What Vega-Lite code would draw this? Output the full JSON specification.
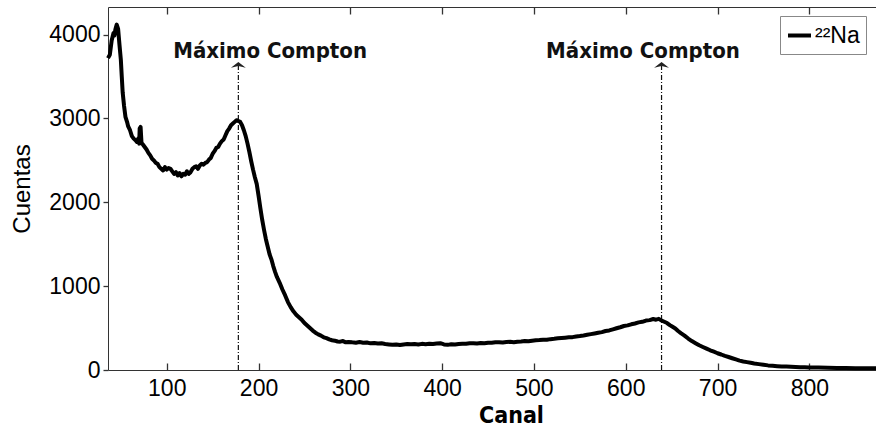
{
  "$schema": "https://vega.github.io/schema/vega-lite/v6.json",
  "width": 769,
  "height": 363,
  "autosize": {"type": "none"},
  "padding": {"left": 108, "top": 7, "right": 0, "bottom": 58},
  "background": "white",
  "config": {
    "view": {"stroke": "#333", "strokeWidth": 1},
    "axis": {"labelFont": "Liberation Sans", "labelFontSize": 23, "labelColor": "black", "ticks": true, "tickColor": "#333", "tickWidth": 1.3, "titleColor": "black", "grid": false}
  },
  "datasets": {
    "spectrum": [
      {"canal":36,"cuentas":3720},{"canal":38,"cuentas":3760},{"canal":40,"cuentas":3930},{"canal":42,"cuentas":4020},{"canal":43,"cuentas":3990},{"canal":44,"cuentas":4060},{"canal":45.5,"cuentas":4120},{"canal":47,"cuentas":4070},{"canal":48.5,"cuentas":3880},{"canal":50,"cuentas":3700},{"canal":51,"cuentas":3500},{"canal":52,"cuentas":3310},{"canal":53.5,"cuentas":3150},{"canal":55,"cuentas":3020},{"canal":57,"cuentas":2950},{"canal":58,"cuentas":2905},{"canal":60,"cuentas":2860},{"canal":62,"cuentas":2790},{"canal":64,"cuentas":2760},{"canal":66,"cuentas":2740},{"canal":67.5,"cuentas":2720},{"canal":69,"cuentas":2760},{"canal":70,"cuentas":2700},{"canal":70.5,"cuentas":2880},{"canal":71.5,"cuentas":2900},{"canal":72.5,"cuentas":2710},{"canal":74,"cuentas":2690},{"canal":76,"cuentas":2660},{"canal":78,"cuentas":2630},{"canal":80,"cuentas":2590},{"canal":82,"cuentas":2560},{"canal":84,"cuentas":2520},{"canal":86,"cuentas":2500},{"canal":88,"cuentas":2470},{"canal":90,"cuentas":2460},{"canal":92,"cuentas":2420},{"canal":94,"cuentas":2400},{"canal":96,"cuentas":2380},{"canal":98,"cuentas":2420},{"canal":100,"cuentas":2390},{"canal":102,"cuentas":2410},{"canal":104,"cuentas":2400},{"canal":106,"cuentas":2370},{"canal":108,"cuentas":2340},{"canal":110,"cuentas":2360},{"canal":112,"cuentas":2320},{"canal":114,"cuentas":2350},{"canal":116,"cuentas":2310},{"canal":118,"cuentas":2340},{"canal":120,"cuentas":2330},{"canal":122,"cuentas":2370},{"canal":124,"cuentas":2340},{"canal":126,"cuentas":2360},{"canal":128,"cuentas":2400},{"canal":130,"cuentas":2420},{"canal":132,"cuentas":2430},{"canal":134,"cuentas":2400},{"canal":136,"cuentas":2440},{"canal":138,"cuentas":2460},{"canal":140,"cuentas":2450},{"canal":142,"cuentas":2470},{"canal":144,"cuentas":2480},{"canal":146,"cuentas":2510},{"canal":148,"cuentas":2530},{"canal":150,"cuentas":2580},{"canal":152,"cuentas":2610},{"canal":154,"cuentas":2650},{"canal":156,"cuentas":2660},{"canal":158,"cuentas":2700},{"canal":160,"cuentas":2730},{"canal":162,"cuentas":2750},{"canal":164,"cuentas":2800},{"canal":166,"cuentas":2850},{"canal":168,"cuentas":2880},{"canal":170,"cuentas":2920},{"canal":172,"cuentas":2940},{"canal":174,"cuentas":2960},{"canal":176,"cuentas":2980},{"canal":178,"cuentas":2970},{"canal":180,"cuentas":2960},{"canal":182,"cuentas":2920},{"canal":184,"cuentas":2860},{"canal":186,"cuentas":2790},{"canal":188,"cuentas":2700},{"canal":190,"cuentas":2600},{"canal":192,"cuentas":2490},{"canal":194,"cuentas":2390},{"canal":196,"cuentas":2300},{"canal":198,"cuentas":2220},{"canal":200,"cuentas":2080},{"canal":202,"cuentas":1930},{"canal":204,"cuentas":1790},{"canal":206,"cuentas":1670},{"canal":208,"cuentas":1560},{"canal":210,"cuentas":1470},{"canal":212,"cuentas":1380},{"canal":214,"cuentas":1320},{"canal":216,"cuentas":1240},{"canal":218,"cuentas":1170},{"canal":220,"cuentas":1110},{"canal":223,"cuentas":1040},{"canal":226,"cuentas":960},{"canal":229,"cuentas":890},{"canal":232,"cuentas":810},{"canal":235,"cuentas":750},{"canal":238,"cuentas":700},{"canal":241,"cuentas":660},{"canal":244,"cuentas":630},{"canal":247,"cuentas":600},{"canal":250,"cuentas":560},{"canal":253,"cuentas":530},{"canal":256,"cuentas":500},{"canal":259,"cuentas":470},{"canal":262,"cuentas":445},{"canal":265,"cuentas":425},{"canal":268,"cuentas":410},{"canal":271,"cuentas":390},{"canal":274,"cuentas":380},{"canal":277,"cuentas":365},{"canal":280,"cuentas":355},{"canal":283,"cuentas":350},{"canal":286,"cuentas":340},{"canal":289,"cuentas":338},{"canal":292,"cuentas":345},{"canal":295,"cuentas":330},{"canal":298,"cuentas":335},{"canal":302,"cuentas":330},{"canal":306,"cuentas":326},{"canal":310,"cuentas":333},{"canal":314,"cuentas":325},{"canal":318,"cuentas":328},{"canal":322,"cuentas":318},{"canal":326,"cuentas":322},{"canal":330,"cuentas":315},{"canal":334,"cuentas":318},{"canal":338,"cuentas":310},{"canal":342,"cuentas":305},{"canal":346,"cuentas":300},{"canal":350,"cuentas":305},{"canal":354,"cuentas":298},{"canal":358,"cuentas":305},{"canal":362,"cuentas":310},{"canal":366,"cuentas":306},{"canal":370,"cuentas":309},{"canal":374,"cuentas":304},{"canal":378,"cuentas":312},{"canal":382,"cuentas":308},{"canal":386,"cuentas":314},{"canal":390,"cuentas":310},{"canal":394,"cuentas":316},{"canal":398,"cuentas":320},{"canal":402,"cuentas":305},{"canal":406,"cuentas":300},{"canal":410,"cuentas":308},{"canal":414,"cuentas":303},{"canal":418,"cuentas":310},{"canal":422,"cuentas":314},{"canal":426,"cuentas":312},{"canal":430,"cuentas":318},{"canal":434,"cuentas":320},{"canal":438,"cuentas":316},{"canal":442,"cuentas":322},{"canal":446,"cuentas":320},{"canal":450,"cuentas":326},{"canal":454,"cuentas":324},{"canal":458,"cuentas":330},{"canal":462,"cuentas":332},{"canal":466,"cuentas":328},{"canal":470,"cuentas":334},{"canal":474,"cuentas":336},{"canal":478,"cuentas":332},{"canal":482,"cuentas":338},{"canal":486,"cuentas":340},{"canal":490,"cuentas":345},{"canal":494,"cuentas":342},{"canal":498,"cuentas":350},{"canal":502,"cuentas":355},{"canal":506,"cuentas":358},{"canal":510,"cuentas":362},{"canal":514,"cuentas":360},{"canal":518,"cuentas":368},{"canal":522,"cuentas":372},{"canal":526,"cuentas":378},{"canal":530,"cuentas":382},{"canal":534,"cuentas":386},{"canal":538,"cuentas":390},{"canal":542,"cuentas":392},{"canal":546,"cuentas":400},{"canal":550,"cuentas":405},{"canal":554,"cuentas":412},{"canal":558,"cuentas":420},{"canal":562,"cuentas":428},{"canal":566,"cuentas":436},{"canal":570,"cuentas":445},{"canal":574,"cuentas":452},{"canal":578,"cuentas":465},{"canal":582,"cuentas":472},{"canal":586,"cuentas":485},{"canal":590,"cuentas":498},{"canal":594,"cuentas":510},{"canal":598,"cuentas":525},{"canal":602,"cuentas":532},{"canal":606,"cuentas":545},{"canal":610,"cuentas":555},{"canal":614,"cuentas":568},{"canal":618,"cuentas":575},{"canal":622,"cuentas":590},{"canal":626,"cuentas":595},{"canal":630,"cuentas":608},{"canal":633,"cuentas":600},{"canal":636,"cuentas":610},{"canal":639,"cuentas":590},{"canal":642,"cuentas":575},{"canal":645,"cuentas":560},{"canal":648,"cuentas":535},{"canal":651,"cuentas":515},{"canal":654,"cuentas":495},{"canal":657,"cuentas":465},{"canal":660,"cuentas":440},{"canal":664,"cuentas":410},{"canal":668,"cuentas":375},{"canal":672,"cuentas":345},{"canal":676,"cuentas":320},{"canal":680,"cuentas":295},{"canal":684,"cuentas":275},{"canal":688,"cuentas":255},{"canal":692,"cuentas":235},{"canal":696,"cuentas":218},{"canal":700,"cuentas":200},{"canal":704,"cuentas":185},{"canal":708,"cuentas":168},{"canal":712,"cuentas":155},{"canal":716,"cuentas":140},{"canal":720,"cuentas":126},{"canal":724,"cuentas":112},{"canal":728,"cuentas":102},{"canal":732,"cuentas":94},{"canal":736,"cuentas":86},{"canal":740,"cuentas":78},{"canal":745,"cuentas":70},{"canal":750,"cuentas":62},{"canal":755,"cuentas":55},{"canal":760,"cuentas":50},{"canal":765,"cuentas":46},{"canal":770,"cuentas":43},{"canal":775,"cuentas":41},{"canal":780,"cuentas":38},{"canal":785,"cuentas":36},{"canal":790,"cuentas":34},{"canal":795,"cuentas":33},{"canal":800,"cuentas":31},{"canal":810,"cuentas":29},{"canal":820,"cuentas":27},{"canal":830,"cuentas":25},{"canal":840,"cuentas":24},{"canal":850,"cuentas":22},{"canal":860,"cuentas":21},{"canal":874,"cuentas":20}
    ],
    "marcas": [
      {"canal": 178, "base": 0, "tope": 3640},
      {"canal": 639, "base": 0, "tope": 3640}
    ],
    "textos": [
      {"canal": 212.6, "cuentas": 3716, "texto": "Máximo Compton"},
      {"canal": 618.8, "cuentas": 3716, "texto": "Máximo Compton"}
    ]
  },
  "resolve": {"axis": {"x": "independent"}},
  "layer": [
    {
      "data": {"name": "marcas"},
      "mark": {"type": "rule", "stroke": "#111", "strokeWidth": 1.2, "strokeDash": [5, 2, 1, 2]},
      "encoding": {
        "x": {"field": "canal", "type": "quantitative", "scale": {"domain": [36, 873.7], "nice": false, "zero": false},
              "axis": {"orient": "top", "labels": false, "title": null, "domain": false, "ticks": true, "offset": -7, "tickSize": 7, "values": [100, 200, 300, 400, 500, 600, 700, 800]}},
        "y": {"field": "base", "type": "quantitative"},
        "y2": {"field": "tope"}
      }
    },
    {
      "data": {"name": "marcas"},
      "mark": {"type": "point", "shape": "M-1,0.4L0,-0.4L1,0.4L0,0.15Z", "filled": true, "color": "#222", "opacity": 1, "size": 220},
      "encoding": {
        "x": {"field": "canal", "type": "quantitative", "axis": null},
        "y": {"field": "tope", "type": "quantitative"}
      }
    },
    {
      "data": {"name": "textos"},
      "mark": {"type": "text", "font": "DejaVu Sans Condensed", "fontWeight": "bold", "fontSize": 22, "color": "#111", "align": "center", "baseline": "alphabetic"},
      "encoding": {
        "x": {"field": "canal", "type": "quantitative", "axis": null},
        "y": {"field": "cuentas", "type": "quantitative"},
        "text": {"field": "texto"}
      }
    },
    {
      "data": {"name": "spectrum"},
      "mark": {"type": "line", "strokeWidth": 4, "strokeJoin": "round"},
      "encoding": {
        "x": {"field": "canal", "type": "quantitative",
              "axis": {"orient": "bottom", "title": "Canal", "titleFont": "DejaVu Sans Condensed", "titleFontSize": 23, "titleFontWeight": "bold", "titleX": 403, "titlePadding": 4, "domain": false, "ticks": true, "offset": -7, "tickSize": 7, "labelPadding": 7, "format": "d", "values": [100, 200, 300, 400, 500, 600, 700, 800]}},
        "y": {"field": "cuentas", "type": "quantitative", "scale": {"domain": [0, 4330], "nice": false},
              "axis": {"title": "Cuentas", "titleFont": "Liberation Sans", "titleFontSize": 24, "titleFontWeight": "normal", "titlePadding": 14, "domain": false, "ticks": true, "tickSize": 5, "labelPadding": 3, "format": "d", "values": [0, 1000, 2000, 3000, 4000]}},
        "color": {"datum": "²²Na", "type": "nominal", "scale": {"range": ["black"]},
                  "legend": {"orient": "none", "legendX": 672, "legendY": 9, "title": null, "symbolType": "stroke", "symbolSize": 529, "symbolStrokeWidth": 4, "labelFont": "Liberation Sans", "labelFontSize": 23, "labelColor": "black", "strokeColor": "#888", "padding": 6, "labelOffset": 2}}
      }
    }
  ]
}
